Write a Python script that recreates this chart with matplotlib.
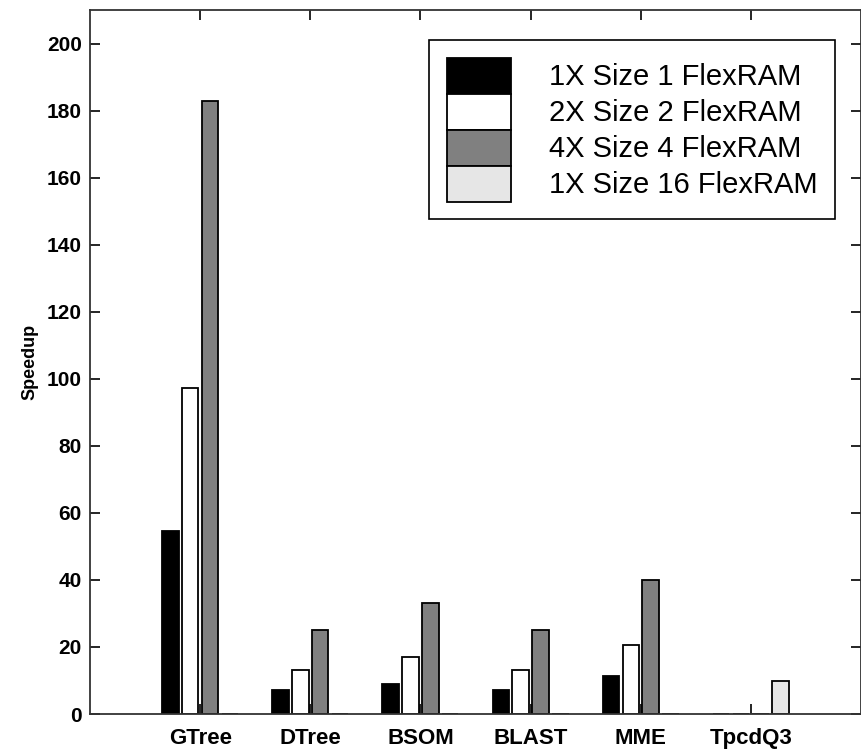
import numpy as np
import matplotlib
matplotlib.use('Agg')
import matplotlib.pyplot as plt

# benchmark names and speedups
benchmarks = ['GTree', 'DTree', 'BSOM', 'BLAST', 'MME', 'TpcdQ3']
series_names = ['1X Size 1 FlexRAM', '2X Size 2 FlexRAM', '4X Size 4 FlexRAM', '1X Size 16 FlexRAM']
size1 = [54.5, 7.2, 9, 7.2, 11.4, 0]
size2 = [97.3, 13.2, 17, 13.2, 20.7, 0]
size4 = [182.8, 25, 33, 25, 40, 0]
size16 = [0, 0, 0, 0, 0, 10]
colors = ['black', 'white', '#808080', '#e6e6e6']

plt.rcParams['font.family'] = ['Liberation Sans', 'DejaVu Sans']

fig = plt.figure(figsize=(8.62, 7.54), dpi=100)
ax = fig.add_axes([0.1044, 0.053, 0.8944, 0.9337])

x = np.arange(1, len(benchmarks) + 1)
offsets = [-0.27, -0.09, 0.09, 0.27]
for vals, off, col, name in zip([size1, size2, size4, size16], offsets, colors, series_names):
    ax.bar(x + off, vals, width=0.15, color=col, edgecolor='black', linewidth=1.3, label=name)

ax.set_xlim(0, 7)
ax.set_ylim(0, 210)
ax.set_xticks(x)
ax.set_xticklabels(benchmarks, fontsize=16, fontweight='bold')
ax.set_yticks(np.arange(0, 201, 20))
ax.set_yticklabels([str(v) for v in range(0, 201, 20)], fontsize=15, fontweight='bold')
ax.tick_params(direction='in', length=7, width=1.2, top=True, right=True, pad=6)
ax.tick_params(axis='x', pad=10)
ax.set_ylabel('Speedup', fontsize=13, fontweight='bold', labelpad=6)
for sp in ax.spines.values():
    sp.set_linewidth(1.3)
    sp.set_color('#333333')

leg = ax.legend(loc='upper right', bbox_to_anchor=(0.966, 0.957), borderaxespad=0,
                fontsize=21, handlelength=2.2, handleheight=1.52, labelspacing=0,
                handletextpad=1.3, borderpad=0.6, fancybox=False, framealpha=1)
leg.get_frame().set_edgecolor('black')
leg.get_frame().set_linewidth(1.2)

fig.savefig('out.png', dpi=100)
